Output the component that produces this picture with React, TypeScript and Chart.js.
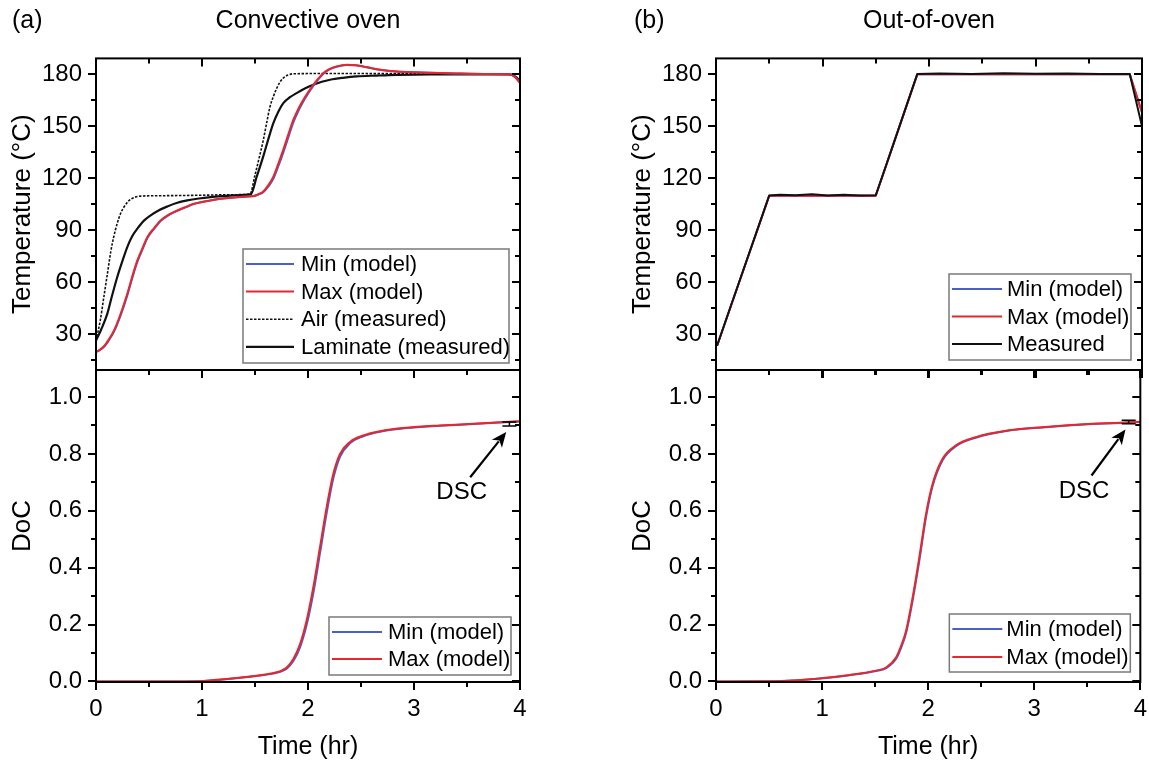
import React, { useEffect, useRef } from 'react';
import { Chart, registerables } from 'chart.js';

Chart.register(...registerables);

const FONT = "'Liberation Sans', Arial, Helvetica, sans-serif";
const RED = '#e8262b';
const BLUE = '#4a60c8';

// ---------------- tick values ----------------
const timeTicks = [0, 0.5, 1, 1.5, 2, 2.5, 3, 3.5, 4];
const tempTicks = [15, 30, 45, 60, 75, 90, 105, 120, 135, 150, 165, 180];
const docTicks = [0, 0.1, 0.2, 0.3, 0.4, 0.5, 0.6, 0.7, 0.8, 0.9, 1.0];

// ---------------- (a) Convective oven: temperature ----------------
const airTimeA = [0, 0.04, 0.075, 0.11, 0.14, 0.17, 0.2, 0.23, 0.264, 0.3, 0.33, 0.37, 0.42, 0.6, 1.0, 1.3, 1.453, 1.5, 1.54, 1.578, 1.61, 1.64, 1.675, 1.705, 1.735, 1.767, 1.81, 1.86, 2.2, 2.8, 3.4, 3.9, 3.96, 4.0];
const airTempA = [26.5, 38, 52, 66, 78, 87, 94, 99.5, 103.5, 106.5, 108, 109.2, 109.8, 110, 110.3, 110.6, 111, 122, 132, 142, 152, 161, 167.5, 172, 175.5, 177.9, 179.6, 180.3, 180.5, 180.4, 180.3, 180, 178.5, 176];

const lamTimeA = [0, 0.05, 0.107, 0.15, 0.2, 0.25, 0.295, 0.34, 0.39, 0.45, 0.516, 0.59, 0.673, 0.76, 0.861, 0.97, 1.08, 1.2, 1.3, 1.4, 1.46, 1.516, 1.578, 1.625, 1.673, 1.72, 1.767, 1.83, 1.893, 1.97, 2.05, 2.13, 2.208, 2.33, 2.459, 2.65, 2.837, 3.15, 3.5, 3.9, 3.96, 4.0];
const lamTempA = [26.5, 33, 42, 52, 63, 72.5, 80.4, 86.5, 91, 95.5, 98.7, 101.5, 103.8, 105.8, 107.3, 108.4, 109.2, 109.8, 110.2, 110.5, 110.8, 121, 132.7, 142.5, 151.9, 158.5, 163.4, 166.8, 169.2, 171.8, 174, 175.7, 176.9, 178, 178.8, 179.3, 179.7, 180, 180, 180, 178.5, 176];

const modelTimeA = [0, 0.028, 0.08, 0.12, 0.17, 0.23, 0.295, 0.34, 0.39, 0.44, 0.484, 0.55, 0.61, 0.69, 0.767, 0.85, 0.925, 1.05, 1.176, 1.3, 1.43, 1.49, 1.516, 1.545, 1.578, 1.625, 1.673, 1.72, 1.767, 1.815, 1.862, 1.91, 1.956, 2.0, 2.05, 2.1, 2.145, 2.2, 2.27, 2.365, 2.45, 2.52, 2.6, 2.68, 2.837, 3.0, 3.15, 3.4, 3.7, 3.9, 3.96, 4.0];
const maxTempA = [20, 20.8, 23.5, 27, 32.3, 41.5, 53.5, 63, 72.7, 80, 86.1, 91.5, 95.8, 99.3, 101.5, 103.6, 105.4, 107, 108.3, 109, 109.6, 109.9, 110.5, 111.2, 112.5, 116, 121, 128.5, 136.6, 145.5, 153.9, 160.3, 165.4, 169.6, 174, 177.8, 180.8, 183, 184.6, 185.6, 185.3, 184.6, 183.6, 182.7, 181.7, 181.2, 180.9, 180.5, 180.2, 180, 178, 175];
const minTempA = [20, 20.6, 23.1, 26.5, 31.6, 40.6, 52.4, 62, 71.8, 79.2, 85.5, 91, 95.4, 99, 101.3, 103.4, 105.3, 106.9, 108.2, 109, 109.5, 109.8, 110.3, 110.9, 112, 115.2, 119.8, 127, 134.9, 143.8, 152.3, 159, 164.4, 168.8, 173.4, 177.3, 180.4, 182.7, 184.4, 185.4, 185.2, 184.5, 183.5, 182.6, 181.6, 181.2, 180.9, 180.5, 180.2, 180, 178, 175];

// ---------------- (b) Out-of-oven: temperature ----------------
const measTimeB = [0.01, 0.1, 0.25, 0.4, 0.5, 0.6, 0.75, 0.9, 1.05, 1.2, 1.35, 1.5, 1.6, 1.7, 1.8, 1.89, 2.1, 2.4, 2.7, 3.0, 3.3, 3.6, 3.885, 4.0];
const measTempB = [23.5, 39.5, 66, 92.5, 110.2, 110.6, 110.3, 110.8, 110.2, 110.5, 110.1, 110.3, 128, 146, 164, 180.2, 180.5, 180.2, 180.6, 180.3, 180.5, 180.2, 180.2, 150];
const modelTimeB = [0.01, 0.5, 1.5, 1.89, 3.885, 4.0];
const maxTempB = [23.5, 110, 110, 180, 180, 158];
const minTempB = [23.5, 110, 110, 180, 180, 158];

// ---------------- (a) DoC ----------------
const docTimeA = [0, 0.5, 0.981, 1.2, 1.516, 1.704, 1.76, 1.799, 1.862, 1.925, 1.987, 2.05, 2.113, 2.176, 2.239, 2.302, 2.396, 2.522, 2.679, 2.931, 3.245, 3.56, 4.0];
const docMaxA = [0, 0, 0.001, 0.008, 0.02, 0.032, 0.04, 0.049, 0.079, 0.131, 0.214, 0.331, 0.472, 0.613, 0.73, 0.8, 0.842, 0.865, 0.88, 0.892, 0.9, 0.906, 0.915];
const docMinA = [0, 0, 0.001, 0.007, 0.019, 0.03, 0.037, 0.045, 0.072, 0.12, 0.198, 0.31, 0.45, 0.592, 0.714, 0.79, 0.837, 0.862, 0.878, 0.891, 0.899, 0.905, 0.914];

// ---------------- (b) DoC ----------------
const docTimeB = [0, 0.57, 1.009, 1.259, 1.51, 1.604, 1.698, 1.745, 1.792, 1.854, 1.917, 1.98, 2.042, 2.136, 2.262, 2.449, 2.763, 3.076, 3.546, 4.0];
const docMaxB = [0, 0.001, 0.012, 0.023, 0.038, 0.049, 0.085, 0.125, 0.178, 0.296, 0.437, 0.589, 0.695, 0.783, 0.83, 0.859, 0.883, 0.894, 0.906, 0.913];
const docMinB = [0, 0.001, 0.011, 0.022, 0.037, 0.047, 0.08, 0.118, 0.17, 0.285, 0.425, 0.578, 0.687, 0.778, 0.827, 0.857, 0.882, 0.893, 0.905, 0.912];

// DSC measurement (time, DoC, error)
const dscA = { t: 3.9, v: 0.905, err: 0.007 };
const dscB = { t: 3.89, v: 0.912, err: 0.006 };

// ---------------- helpers ----------------
const pts = (xs: number[], ys: number[]) => xs.map((x, i) => ({ x, y: ys[i] }));

type LegendItem = { label: string; color: string; dash?: number[]; width: number };
type PanelCfg = {
  left: number; top: number; width: number; height: number;
  padding: { left: number; right: number; top: number; bottom: number };
  showX: boolean;
  yMin: number; yMax: number; yStep: number; yMajor: number; yTicks: number[];
  yTitle: string; decimals: number;
  datasets: any[];
  legend: { dr: number; db: number; w: number; h: number; first: number; gap: number; lineX: number; lineLen: number; textX: number; items: LegendItem[] };
  dsc?: { t: number; v: number; err: number; from: [number, number]; to: [number, number]; text: [number, number] };
};

const isMult = (v: number, m: number) => Math.abs(v / m - Math.round(v / m)) < 1e-6;

function makeDecor(p: PanelCfg) {
  return {
    id: 'decor',
    afterDatasetsDraw(chart: any) {
      const { ctx, chartArea: a, scales } = chart;
      const xs = scales.x, ys = scales.y;
      ctx.save();
      ctx.strokeStyle = '#000';
      ctx.lineWidth = 2;
      ctx.beginPath();
      for (const v of timeTicks) {
        const px = Math.round(xs.getPixelForValue(v));
        const L = isMult(v, 1) ? 8 : 5;
        ctx.moveTo(px, a.bottom); ctx.lineTo(px, a.bottom + L);
        ctx.moveTo(px, a.top); ctx.lineTo(px, a.top + L);
      }
      for (const v of p.yTicks) {
        const py = Math.round(ys.getPixelForValue(v));
        const L = isMult(v, p.yMajor) ? 8 : 5;
        ctx.moveTo(a.left - L, py); ctx.lineTo(a.left, py);
        ctx.moveTo(a.right - L, py); ctx.lineTo(a.right, py);
      }
      ctx.stroke();
      ctx.strokeRect(a.left, a.top, a.right - a.left, a.bottom - a.top);

      // legend
      const lg = p.legend;
      const bx = a.right - lg.dr - lg.w;
      const by = a.bottom - lg.db - lg.h;
      ctx.fillStyle = '#fff';
      ctx.fillRect(bx, by, lg.w, lg.h);
      ctx.strokeStyle = '#7a7a7a';
      ctx.lineWidth = 1.5;
      ctx.strokeRect(bx, by, lg.w, lg.h);
      ctx.font = `22px ${FONT}`;
      ctx.textBaseline = 'middle';
      ctx.textAlign = 'left';
      lg.items.forEach((it, i) => {
        const cy = by + lg.first + i * lg.gap;
        ctx.beginPath();
        ctx.strokeStyle = it.color;
        ctx.lineWidth = it.width;
        ctx.setLineDash(it.dash || []);
        ctx.moveTo(bx + lg.lineX, cy);
        ctx.lineTo(bx + lg.lineX + lg.lineLen, cy);
        ctx.stroke();
        ctx.setLineDash([]);
        ctx.fillStyle = '#000';
        ctx.fillText(it.label, bx + lg.textX, cy + 1);
      });

      // DSC annotation
      if (p.dsc) {
        const d = p.dsc;
        const ex = xs.getPixelForValue(d.t);
        const eLo = ys.getPixelForValue(d.v - d.err);
        const eHi = ys.getPixelForValue(d.v + d.err);
        ctx.strokeStyle = '#000';
        ctx.lineWidth = 1.5;
        ctx.beginPath();
        ctx.moveTo(ex, eLo); ctx.lineTo(ex, eHi);
        ctx.moveTo(ex - 7, eLo); ctx.lineTo(ex + 7, eLo);
        ctx.moveTo(ex - 7, eHi); ctx.lineTo(ex + 7, eHi);
        ctx.stroke();

        const x1 = xs.getPixelForValue(d.from[0]), y1 = ys.getPixelForValue(d.from[1]);
        const x2 = xs.getPixelForValue(d.to[0]), y2 = ys.getPixelForValue(d.to[1]);
        const ang = Math.atan2(y2 - y1, x2 - x1);
        const head = 15, hw = 6.5;
        const hx = x2 - head * Math.cos(ang), hy = y2 - head * Math.sin(ang);
        ctx.lineWidth = 2.2;
        ctx.beginPath();
        ctx.moveTo(x1, y1); ctx.lineTo(hx + 3 * Math.cos(ang), hy + 3 * Math.sin(ang));
        ctx.stroke();
        ctx.fillStyle = '#000';
        ctx.beginPath();
        ctx.moveTo(x2, y2);
        ctx.lineTo(hx + hw * Math.sin(ang), hy - hw * Math.cos(ang));
        ctx.lineTo(hx + 4 * Math.cos(ang), hy + 4 * Math.sin(ang));
        ctx.lineTo(hx - hw * Math.sin(ang), hy + hw * Math.cos(ang));
        ctx.closePath();
        ctx.fill();

        ctx.font = `24px ${FONT}`;
        ctx.textAlign = 'center';
        ctx.textBaseline = 'middle';
        ctx.fillText('DSC', xs.getPixelForValue(d.text[0]), ys.getPixelForValue(d.text[1]));
      }
      ctx.restore();
    },
  };
}

function buildChart(canvas: HTMLCanvasElement, p: PanelCfg) {
  return new Chart(canvas, {
    type: 'line',
    data: { datasets: p.datasets },
    options: {
      animation: false,
      responsive: false,
      devicePixelRatio: 1,
      events: [],
      layout: { padding: p.padding },
      plugins: { legend: { display: false }, tooltip: { enabled: false }, title: { display: false } },
      elements: { point: { radius: 0, hoverRadius: 0 }, line: { borderJoinStyle: 'round', borderCapStyle: 'butt' } },
      scales: {
        x: {
          type: 'linear',
          min: 0,
          max: 4,
          display: p.showX,
          grid: { display: false, drawTicks: false },
          border: { display: false },
          ticks: {
            stepSize: 1, autoSkip: false, includeBounds: false, maxRotation: 0,
            padding: 13, color: '#000', font: { family: FONT, size: 24 },
          },
          title: {
            display: true, text: 'Time (hr)', color: '#000',
            font: { family: FONT, size: 25 }, padding: { top: 0, bottom: 4 },
          },
          afterFit: (s: any) => { s.height = p.showX ? 84 : 0; },
        },
        y: {
          type: 'linear',
          min: p.yMin,
          max: p.yMax,
          grid: { display: false, drawTicks: false },
          border: { display: false },
          ticks: {
            stepSize: p.yStep, autoSkip: false, includeBounds: false,
            padding: 14, color: '#000', font: { family: FONT, size: 24 },
            callback: (v: any) => (isMult(Number(v), p.yMajor) ? Number(v).toFixed(p.decimals) : ''),
          },
          title: {
            display: true, text: p.yTitle, color: '#000',
            font: { family: FONT, size: 26 }, padding: { top: 7, bottom: 0 },
          },
          afterFit: (s: any) => { s.width = 96; },
        },
      },
    } as any,
    plugins: [makeDecor(p)],
  } as any);
}

const line = (label: string, data: any[], color: string, width: number, dash?: number[], tension = true) => ({
  label, data, borderColor: color, backgroundColor: color, borderWidth: width,
  borderDash: dash || [], pointRadius: 0, fill: false,
  cubicInterpolationMode: tension ? 'monotone' : 'default', tension: 0,
});

const AIR_DASH = [2.5, 1.5];

// canvases: top row spans y 30..400 (plot 58..370), bottom row spans y 340..768 (plot 370..682)
const topPad = (right: number) => ({ left: 0, right, top: 28, bottom: 30 });
const botPad = (right: number) => ({ left: 0, right, top: 30, bottom: 2 });

const panels: PanelCfg[] = [
  {
    left: 0, top: 30, width: 540, height: 370, padding: topPad(20), showX: false,
    yMin: 9.5, yMax: 189.2, yStep: 15, yMajor: 30, yTicks: tempTicks, yTitle: 'Temperature (°C)', decimals: 0,
    datasets: [
      line('Max (model)', pts(modelTimeA, maxTempA), RED, 2),
      line('Min (model)', pts(modelTimeA, minTempA), BLUE, 2),
      line('Laminate (measured)', pts(lamTimeA, lamTempA), '#111', 2.2),
      line('Air (measured)', pts(airTimeA, airTempA), '#111', 1.6, AIR_DASH),
    ],
    legend: {
      dr: 11, db: 7, w: 266, h: 114, first: 15, gap: 27.6, lineX: 3, lineLen: 48, textX: 58,
      items: [
        { label: 'Min (model)', color: BLUE, width: 2 },
        { label: 'Max (model)', color: RED, width: 2 },
        { label: 'Air (measured)', color: '#111', width: 1.6, dash: AIR_DASH },
        { label: 'Laminate (measured)', color: '#111', width: 2.2 },
      ],
    },
  },
  {
    left: 0, top: 340, width: 540, height: 428, padding: botPad(20), showX: true,
    yMin: -0.002, yMax: 1.095, yStep: 0.1, yMajor: 0.2, yTicks: docTicks, yTitle: 'DoC', decimals: 1,
    datasets: [
      line('Max (model)', pts(docTimeA, docMaxA), RED, 2),
      line('Min (model)', pts(docTimeA, docMinA), BLUE, 2),
    ],
    legend: {
      dr: 9, db: 7, w: 182, h: 58, first: 15, gap: 27, lineX: 3, lineLen: 50, textX: 59,
      items: [
        { label: 'Min (model)', color: BLUE, width: 2 },
        { label: 'Max (model)', color: RED, width: 2 },
      ],
    },
    dsc: { ...dscA, from: [3.53, 0.718], to: [3.87, 0.877], text: [3.45, 0.665] },
  },
  {
    left: 620, top: 30, width: 540, height: 370, padding: topPad(18), showX: false,
    yMin: 9.5, yMax: 189.2, yStep: 15, yMajor: 30, yTicks: tempTicks, yTitle: 'Temperature (°C)', decimals: 0,
    datasets: [
      line('Measured', pts(measTimeB, measTempB), '#111', 2, undefined, false),
      line('Max (model)', pts(modelTimeB, maxTempB), RED, 2, undefined, false),
      line('Min (model)', pts(modelTimeB, minTempB), BLUE, 2, undefined, false),
    ],
    legend: {
      dr: 11, db: 10, w: 182, h: 86, first: 15, gap: 27.5, lineX: 3, lineLen: 50, textX: 58,
      items: [
        { label: 'Min (model)', color: BLUE, width: 2 },
        { label: 'Max (model)', color: RED, width: 2 },
        { label: 'Measured', color: '#111', width: 2 },
      ],
    },
  },
  {
    left: 620, top: 340, width: 540, height: 428, padding: botPad(18), showX: true,
    yMin: -0.002, yMax: 1.095, yStep: 0.1, yMajor: 0.2, yTicks: docTicks, yTitle: 'DoC', decimals: 1,
    datasets: [
      line('Max (model)', pts(docTimeB, docMaxB), RED, 2),
      line('Min (model)', pts(docTimeB, docMinB), BLUE, 2),
    ],
    legend: {
      dr: 10, db: 10, w: 181, h: 58, first: 15, gap: 28, lineX: 3, lineLen: 50, textX: 57,
      items: [
        { label: 'Min (model)', color: BLUE, width: 2 },
        { label: 'Max (model)', color: RED, width: 2 },
      ],
    },
    dsc: { ...dscB, from: [3.54, 0.724], to: [3.86, 0.886], text: [3.47, 0.668] },
  },
];

export default function App() {
  const refs = [useRef<HTMLCanvasElement>(null), useRef<HTMLCanvasElement>(null), useRef<HTMLCanvasElement>(null), useRef<HTMLCanvasElement>(null)];

  useEffect(() => {
    const charts = panels.map((p, i) => buildChart(refs[i].current as HTMLCanvasElement, p));
    return () => charts.forEach((c) => c.destroy());
  }, []);

  const txt = (extra: any) => ({
    position: 'absolute' as const, fontFamily: FONT, fontSize: 25, lineHeight: '28px',
    color: '#000', whiteSpace: 'nowrap' as const, ...extra,
  });

  return (
    <div style={{ position: 'absolute', left: 0, top: 0, width: 1149, height: 768, overflow: 'hidden', background: '#fff' }}>
      {panels.map((p, i) => (
        <canvas
          key={i}
          ref={refs[i]}
          width={p.width}
          height={p.height}
          style={{ position: 'absolute', left: p.left, top: p.top, width: p.width, height: p.height }}
        />
      ))}
      <div style={txt({ left: 12, top: 5 })}>(a)</div>
      <div style={txt({ left: 96, top: 5, width: 424, textAlign: 'center' })}>Convective oven</div>
      <div style={txt({ left: 634, top: 5 })}>(b)</div>
      <div style={txt({ left: 716, top: 5, width: 426, textAlign: 'center' })}>Out-of-oven</div>
    </div>
  );
}
